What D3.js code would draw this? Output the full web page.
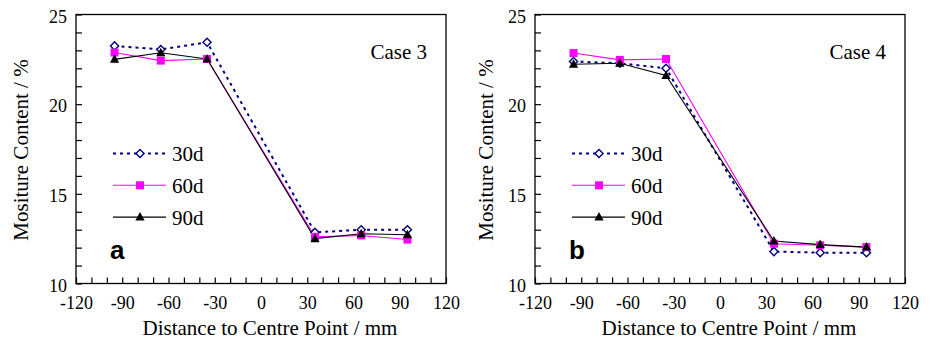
<!DOCTYPE html>
<html>
<head>
<meta charset="utf-8">
<script src="https://cdn.jsdelivr.net/npm/d3@7"></script>
</head>
<body style="margin:0;background:#fff">
<figure id="chart" style="margin:0"></figure>
<script>
// distance to centre point (mm)
const distances = [-95, -65, -35, 35, 65, 95];
const seriesNames = ["30d", "60d", "90d"];

// case 3 (panel a)
const case3_30d = [23.25, 23.05, 23.45, 12.85, 13.0, 13.0];
const case3_60d = [22.88, 22.43, 22.52, 12.6, 12.68, 12.45];
const case3_90d = [22.5, 22.87, 22.52, 12.5, 12.77, 12.72];

// case 4 (panel b)
const case4_30d = [22.38, 22.28, 22.0, 11.78, 11.72, 11.72];
const case4_60d = [22.85, 22.47, 22.52, 12.22, 12.13, 12.03];
const case4_90d = [22.23, 22.28, 21.6, 12.37, 12.17, 12.03];

const xTickLabels = [-120, -90, -60, -30, 0, 30, 60, 90, 120];
const yTickLabels = [10, 15, 20, 25];

const panels = [
  { letter: "a", title: "Case 3", left: 76, series: [case3_30d, case3_60d, case3_90d] },
  { letter: "b", title: "Case 4", left: 535, series: [case4_30d, case4_60d, case4_90d] }
];

const styles = [
  { color: "#000080", width: 2, dash: "3,4", marker: "diamond" },
  { color: "#ff00ff", width: 1.1, dash: null, marker: "square" },
  { color: "#000000", width: 1.1, dash: null, marker: "triangle" }
];

const SERIF = "Liberation Serif";
const W = 930, H = 341;
const marginTop = 14.5, plotH = 269, plotW = 370;

const svg = d3.select("figure#chart")
  .append("svg")
  .attr("width", W)
  .attr("height", H)
  .style("display", "block");

function serifText(sel, size) {
  return sel.attr("font-family", SERIF).style("font-family", SERIF)
    .attr("font-size", size).style("font-size", size + "px")
    .attr("fill", "#000");
}

function drawMarker(g, type, color, cx, cy) {
  if (type === "diamond") {
    g.append("path")
      .attr("d", d3.symbol(d3.symbolDiamond2, 42)())
      .attr("transform", "translate(" + cx + "," + cy + ")")
      .attr("fill", "#fff")
      .attr("stroke", color)
      .attr("stroke-width", 1.4);
  } else if (type === "square") {
    g.append("rect")
      .attr("x", cx - 4).attr("y", cy - 4)
      .attr("width", 8).attr("height", 8)
      .attr("fill", color);
  } else {
    g.append("path")
      .attr("d", "M0,-5L4.6,3.5L-4.6,3.5Z")
      .attr("transform", "translate(" + cx + "," + cy + ")")
      .attr("fill", color);
  }
}

panels.forEach((p, pi) => {
  const g = svg.append("g")
    .attr("transform", "translate(" + p.left + "," + marginTop + ")");

  const x = d3.scaleLinear().domain([-120, 120]).range([0, plotW]);
  const y = d3.scaleLinear().domain([10, 25]).range([plotH, 0]);

  // frame
  g.append("rect")
    .attr("width", plotW).attr("height", plotH)
    .attr("fill", "none").attr("stroke", "#000").attr("stroke-width", 1.3);

  // x axis: inward ticks every 10 mm, labels every 30
  const xAxis = g.append("g")
    .attr("transform", "translate(0," + plotH + ")")
    .call(d3.axisBottom(x)
      .tickValues(d3.range(-120, 121, 10))
      .tickSizeInner(-6).tickSizeOuter(0).tickPadding(13)
      .tickFormat(d => xTickLabels.includes(d) ? String(d) : ""));
  xAxis.attr("font-family", SERIF);
  xAxis.select(".domain").remove();
  xAxis.selectAll("line").attr("stroke-width", 1.2);
  serifText(xAxis.selectAll("text"), 18);

  // y axis: inward ticks every 1 unit
  const yAxis = g.append("g")
    .call(d3.axisLeft(y)
      .tickValues(d3.range(10, 26, 1))
      .tickSizeInner(-6).tickSizeOuter(0).tickPadding(9)
      .tickFormat(d => yTickLabels.includes(d) ? String(d) : ""));
  yAxis.attr("font-family", SERIF);
  yAxis.select(".domain").remove();
  yAxis.selectAll("line").attr("stroke-width", 1.2);
  serifText(yAxis.selectAll("text"), 18).attr("dy", "0.42em");

  // axis titles
  serifText(g.append("text"), 21)
    .attr("x", plotW / 2 + 9).attr("y", 320)
    .attr("text-anchor", "middle")
    .text("Distance to Centre Point / mm");
  const titleX = pi === 0 ? 28 - p.left : 493 - p.left;
  serifText(g.append("text"), 21)
    .attr("transform", "translate(" + titleX + "," + (plotH / 2 + 1) + ")rotate(-90)")
    .attr("text-anchor", "middle")
    .text("Mositure Content / %");

  // case label and panel letter
  serifText(g.append("text"), 21)
    .attr("x", plotW - 19).attr("y", 44.5)
    .attr("text-anchor", "end")
    .text(p.title);
  g.append("text")
    .attr("x", 34).attr("y", 244.5)
    .attr("font-family", "Liberation Sans").style("font-family", "Liberation Sans")
    .style("font-weight", "bold")
    .style("font-size", "26px")
    .text(p.letter);

  // series lines and markers
  const line = d3.line()
    .x((d, i) => x(distances[i]))
    .y(d => y(d));

  p.series.forEach((vals, si) => {
    const s = styles[si];
    g.append("path")
      .datum(vals)
      .attr("d", line)
      .attr("fill", "none")
      .attr("stroke", s.color)
      .attr("stroke-width", s.width)
      .attr("stroke-dasharray", s.dash);
  });
  p.series.forEach((vals, si) => {
    const s = styles[si];
    vals.forEach((v, i) => drawMarker(g, s.marker, s.color, x(distances[i]), y(v)));
  });

  // legend
  seriesNames.forEach((name, si) => {
    const s = styles[si];
    const ly = 139 + si * 31.8;
    g.append("line")
      .attr("x1", 37).attr("x2", 90)
      .attr("y1", ly).attr("y2", ly)
      .attr("stroke", s.color)
      .attr("stroke-width", s.width)
      .attr("stroke-dasharray", s.dash);
    drawMarker(g, s.marker, s.color, 64, ly);
    serifText(g.append("text"), 21)
      .attr("x", 96).attr("y", ly + 7.5)
      .text(name);
  });
});
</script>
</body>
</html>
